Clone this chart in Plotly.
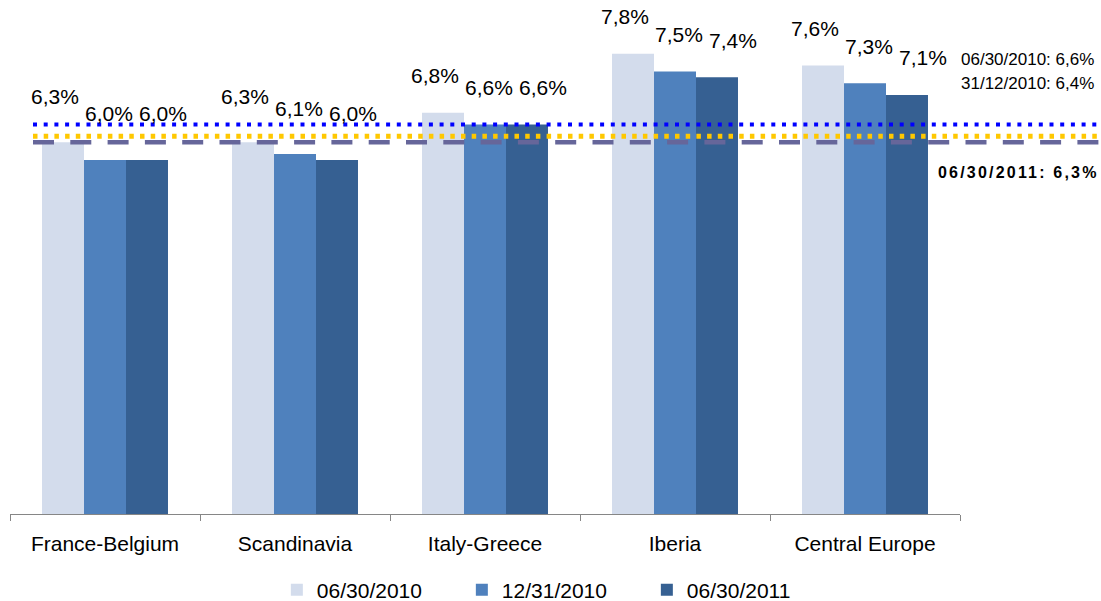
import plotly.graph_objects as go

# Regions and the three reporting dates
regions = ["France-Belgium", "Scandinavia", "Italy-Greece", "Iberia", "Central Europe"]
dates = ["06/30/2010", "12/31/2010", "06/30/2011"]

# Rates (%) per region for each date
rate_jun_2010 = [6.3, 6.3, 6.8, 7.8, 7.6]
rate_dec_2010 = [6.0, 6.1, 6.6, 7.5, 7.3]
rate_jun_2011 = [6.0, 6.0, 6.6, 7.4, 7.1]

# Group averages shown as horizontal reference lines
avg_jun_2010 = 6.6
avg_dec_2010 = 6.4
avg_jun_2011 = 6.3

series = [rate_jun_2010, rate_dec_2010, rate_jun_2011]
colors = ["#D3DCEC", "#4F81BD", "#366092"]

FONT = "Liberation Sans, Arial, sans-serif"
W, H = 1101, 601
ML, MR, MT, MB = 10, 141, 10, 87
Y_MAX = 8.54
BARGAP = 0.337


def fr(v):
    return f"{v:.1f}".replace(".", ",") + "%"


fig = go.Figure()
for name, vals, col in zip(dates, series, colors):
    fig.add_trace(go.Bar(
        x=regions, y=vals, name=name,
        marker=dict(color=col, line=dict(width=0)),
    ))

# Value labels above each bar; labels are spread a little wider than the bars,
# and those of bars below the top reference line are lifted clear of the lines
LABEL_SPREAD = 54
LABEL_SHIFT = 4
top_line = max(avg_jun_2010, avg_dec_2010, avg_jun_2011)
for i, vals in enumerate(series):
    dx = (i - (len(series) - 1) / 2) * LABEL_SPREAD + LABEL_SHIFT
    for reg, v in zip(regions, vals):
        fig.add_annotation(
            x=reg, y=v, xref="x", yref="y", text=fr(v), showarrow=False,
            xshift=dx, yshift=46 if v < top_line else 37, yanchor="middle",
            font=dict(family=FONT, size=21, color="#000000"),
        )

# Reference lines (drawn in paper space so they run past the plot edge)
plot_w = W - ML - MR
x0 = 23 / plot_w
x1 = (W - ML) / plot_w
fig.add_shape(type="line", xref="paper", yref="paper", x0=x0, x1=x1,
              y0=avg_jun_2010 / Y_MAX, y1=avg_jun_2010 / Y_MAX,
              line=dict(color="#0000FF", width=4, dash="4px,6.7px"), layer="above")
fig.add_shape(type="line", xref="paper", yref="paper", x0=x0, x1=x1,
              y0=avg_dec_2010 / Y_MAX, y1=avg_dec_2010 / Y_MAX,
              line=dict(color="#FFC800", width=5, dash="4.5px,6.2px"), layer="above")
fig.add_shape(type="line", xref="paper", yref="paper", x0=x0, x1=x1,
              y0=avg_jun_2011 / Y_MAX, y1=avg_jun_2011 / Y_MAX,
              line=dict(color="#66669A", width=4.5, dash="21px,16.3px"), layer="above")

fig.add_annotation(
    x=0.999, y=0.901, xref="paper", yref="paper", xanchor="left", yanchor="middle",
    text=f"{dates[0]}: {fr(avg_jun_2010)}", showarrow=False,
    font=dict(family=FONT, size=17, color="#000000"),
)
fig.add_annotation(
    x=0.999, y=0.855, xref="paper", yref="paper", xanchor="left", yanchor="middle",
    text=f"31/12/2010: {fr(avg_dec_2010)}", showarrow=False,
    font=dict(family=FONT, size=17, color="#000000"),
)
fig.add_annotation(
    x=0.975, y=0.677, xref="paper", yref="paper", xanchor="left", yanchor="middle",
    text=f'<span style="letter-spacing:2.2px">{dates[2]}: {fr(avg_jun_2011)}</span>',
    showarrow=False,
    font=dict(family=FONT, size=16, color="#000000", weight="bold"),
)

fig.update_layout(
    width=W, height=H,
    margin=dict(l=ML, r=MR, t=MT, b=MB, autoexpand=False),
    paper_bgcolor="#FFFFFF", plot_bgcolor="#FFFFFF",
    barmode="group", bargap=BARGAP, bargroupgap=0,
    font=dict(family=FONT, size=21, color="#000000"),
    showlegend=True,
    legend=dict(
        orientation="h", x=0.573, xanchor="center", y=-0.151, yanchor="middle",
        font=dict(family=FONT, size=21, color="#000000"),
        entrywidth=140, entrywidthmode="pixels", traceorder="normal",
        itemclick=False,
    ),
    xaxis=dict(
        showline=True, linecolor="#868686", linewidth=1,
        ticks="outside", tickson="boundaries", ticklen=6, tickcolor="#868686",
        showgrid=False, zeroline=False, ticklabelstandoff=11, automargin=False,
        tickfont=dict(family=FONT, size=21, color="#000000"),
    ),
    yaxis=dict(range=[0, Y_MAX], visible=False, showgrid=False, zeroline=False),
)

fig.write_html("out.html")
